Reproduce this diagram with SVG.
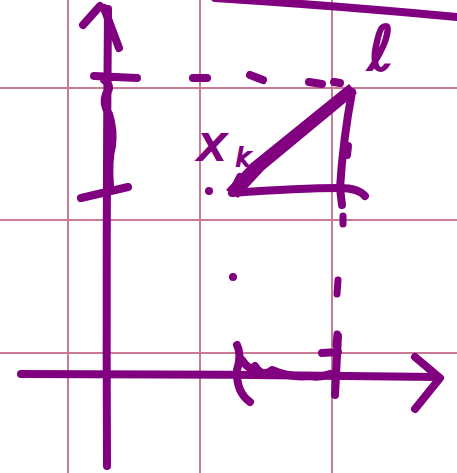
<svg xmlns="http://www.w3.org/2000/svg" width="457" height="473" viewBox="0 0 457 473">
<style>
.grid{stroke:#c97a96;stroke-width:2;fill:none}
.ink{stroke:#800080;stroke-width:8;fill:none;stroke-linecap:round;stroke-linejoin:round}
.thin{stroke:#800080;stroke-width:7;fill:none;stroke-linecap:round}
.hand{fill:#800080;stroke:#800080;font-family:"DejaVu Sans",sans-serif;font-style:italic}
</style>
<rect width="457" height="473" fill="#ffffff"/>
<g id="grid">
<line class="grid" x1="68" y1="0" x2="68" y2="473"/>
<line class="grid" x1="200" y1="0" x2="200" y2="473"/>
<line class="grid" x1="332" y1="0" x2="332" y2="473"/>
<line class="grid" x1="0" y1="88" x2="457" y2="88"/>
<line class="grid" x1="0" y1="220" x2="457" y2="220"/>
<line class="grid" x1="0" y1="353" x2="457" y2="353"/>
</g>
<g id="connectors">
<path class="ink" d="M215,-2 Q340,6 457,17"/>
<path class="ink" d="M83,25 L100,6 M104,8 L119,48 M108,9 Q106,240 107,466"/>
<path class="ink" d="M94,76 L137,78 M104,80 Q113,86 106,94 Q102,104 109,114 Q114,130 112,146 Q108,160 110,186 M81,198 L128,187"/>
<path class="ink" d="M21,374 Q230,374 438,377 M415,357 L440,378 L415,409"/>
<path class="ink" d="M193,78 L207,78 M250,75 L263,80 M309,82 L322,84 M334,82 L340,83"/>
<polygon points="349,84 357,93 264,170 238,198 226,190 250,164" fill="#800080"/>
<path class="ink" d="M232,193 L240,177 M232,193 Q300,188 340,188 Q358,188 365,196"/>
<path class="ink" d="M352,92 Q343,140 340,188 L342,205 M348,146 L347,155"/>
<path class="thin" d="M343,216 L343,224 M338,280 L337,294 M337,334 L336,345"/>
<circle cx="209" cy="191" r="4" fill="#800080"/>
<circle cx="233" cy="277" r="4" fill="#800080"/>
<path class="ink" d="M237,345 Q242,355 237,370 Q236,392 250,402 M242,360 Q250,372 255,366 Q262,378 272,370 Q290,378 310,376 Q320,378 330,374 M338,336 L335,395 M322,353 L338,352"/>
</g>
<g id="labels">
<text class="hand" x="198" y="160" font-size="48" stroke-width="2">x</text>
<text class="hand" x="236" y="166" font-size="24" stroke-width="2">k</text>
<text class="hand" x="368" y="70" font-size="62" stroke-width="2">ℓ</text>
</g>
</svg>
